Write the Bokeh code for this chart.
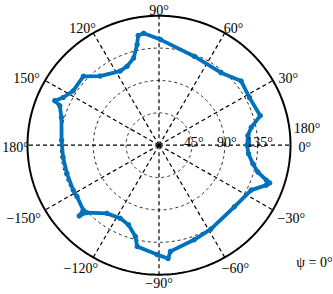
import numpy as np
from bokeh.plotting import figure
from bokeh.models import ColumnDataSource, Label
from bokeh.core.properties import value
from bokeh.embed import file_html
from bokeh.resources import INLINE

# ---- data (angle in degrees, radius in degrees) ----
theta_deg = [0, 6.3, 11.1, 16.5, 28.1, 38.4, 49.9, 68.8, 89.2, 97.7, 100.6, 102.1,
             106, 111.8, 117.3, 130, 137.2, 147.3, 153.2, 156.6, 158, 163.9, 177,
             -172.8, -162.7, -152, -147.6, -139, -138, -136.6, -127, -117.6, -110.6,
             -104.3, -102, -91, -85.5, -83.9, -69.9, -58.7, -39.7, -26.3, -20.7,
             -19.1, -18.3, -15.4, -11.3, -5.5, 0]
r_val = [120.7, 122.4, 128.7, 144.6, 140.4, 143.5, 131.7, 132.7, 146.8, 157, 155, 143,
         126, 118, 116, 125.5, 141, 139.6, 147, 155.5, 146.5, 139, 133.5,
         132.4, 132, 133, 133, 137.4, 147, 136.4, 118.6, 114.6, 118.3,
         131, 143.9, 152.1, 158, 148.4, 140, 136.6, 134, 140.8, 157,
         160.3, 154.8, 140.4, 131, 123, 120.7]

ring_ticks = [45, 90, 135]
ring_labels = ["45°", "90°", "135°"]
r_max = 180
spoke_angles = [0, 30, 60, 90, 120, 150, 180, 210, 240, 270, 300, 330]
ang_labels = [90, 60, 30, 0, -30, -60, -90, -120, -150, 180, 150, 120]
ang_texts = ["90°", "60°", "30°", "0°", "−30°", "−60°", "−90°", "−120°", "−150°",
             "180°", "150°", "120°"]
extra_label = "180°"
psi_label = "ψ = 0°"

FONT = "Liberation Serif"
BLUE = "#0072BD"

W, H = 333, 294
cx, cy = 158.5, 144.7
sx = 131.5 / r_max
sy = 129.5 / r_max

p = figure(width=W, height=H, output_backend="svg", toolbar_location=None,
           x_range=(-cx / sx, (W - cx) / sx), y_range=((cy - H) / sy, cy / sy),
           x_axis_type=None, y_axis_type=None, min_border=0,
           background_fill_color="white", border_fill_color="white")
p.outline_line_color = None
p.grid.visible = False

t = np.linspace(0, 2 * np.pi, 361)
# dashed rings
for rt in ring_ticks:
    p.line(rt * np.cos(t), rt * np.sin(t), line_color="#222222", line_width=1,
           line_dash="3 3")
# spokes
for a in spoke_angles:
    ar = np.deg2rad(a)
    p.line([0, r_max * np.cos(ar)], [0, r_max * np.sin(ar)], line_color="black",
           line_width=1.2, line_dash="4 3")
# outer circle
p.line(r_max * np.cos(t), r_max * np.sin(t), line_color="black", line_width=2)

# data curve
th = np.deg2rad(theta_deg)
rv = np.array(r_val, dtype=float)
src = ColumnDataSource(dict(x=rv * np.cos(th), y=rv * np.sin(th)))
p.line("x", "y", source=src, line_color=BLUE, line_width=3.8, line_join="round")
p.scatter("x", "y", source=src, size=4.5, fill_color=BLUE, line_color=BLUE)

# angle labels
R_lab = 190
la = np.deg2rad(ang_labels)
widths = np.array([7.0 * len(s) for s in ang_texts])
anchor_px = cx + R_lab * sx * np.cos(la)
xo = 0.5 * widths * np.cos(la)
left_edge = anchor_px + xo - widths / 2
xo = np.where(left_edge < 1, 1 + widths / 2 - anchor_px, xo)
yo = np.where((np.sin(la) < -0.3) & (np.abs(np.cos(la)) > 0.3), 5.0, 2.0)
lab_src = ColumnDataSource(dict(
    x=R_lab * np.cos(la), y=R_lab * np.sin(la), text=ang_texts, xo=xo, yo=yo))
p.text("x", "y", text="text", source=lab_src, x_offset="xo", y_offset="yo",
       text_font=value(FONT), text_font_size="14px", text_color="black",
       text_align="center", text_baseline="middle")
# extra 180 label at the right, above the 0 label
p.text([R_lab], [0], text=[extra_label], x_offset=-4, y_offset=-17,
       text_font=value(FONT), text_font_size="14px", text_color="black",
       text_align="left", text_baseline="middle")

# ring labels
p.text(ring_ticks, [0] * len(ring_ticks), text=ring_labels, x_offset=2, y_offset=-3,
       text_font=value(FONT), text_font_size="14px", text_color="black",
       text_align="center", text_baseline="alphabetic")

# psi label
p.add_layout(Label(x=W - 1, y=H - 262, x_units="screen", y_units="screen",
                   text=psi_label, text_font=FONT, text_font_size="14px",
                   text_color="black", text_align="right", text_baseline="middle"))

open("out.html", "w").write(file_html(p, INLINE))
